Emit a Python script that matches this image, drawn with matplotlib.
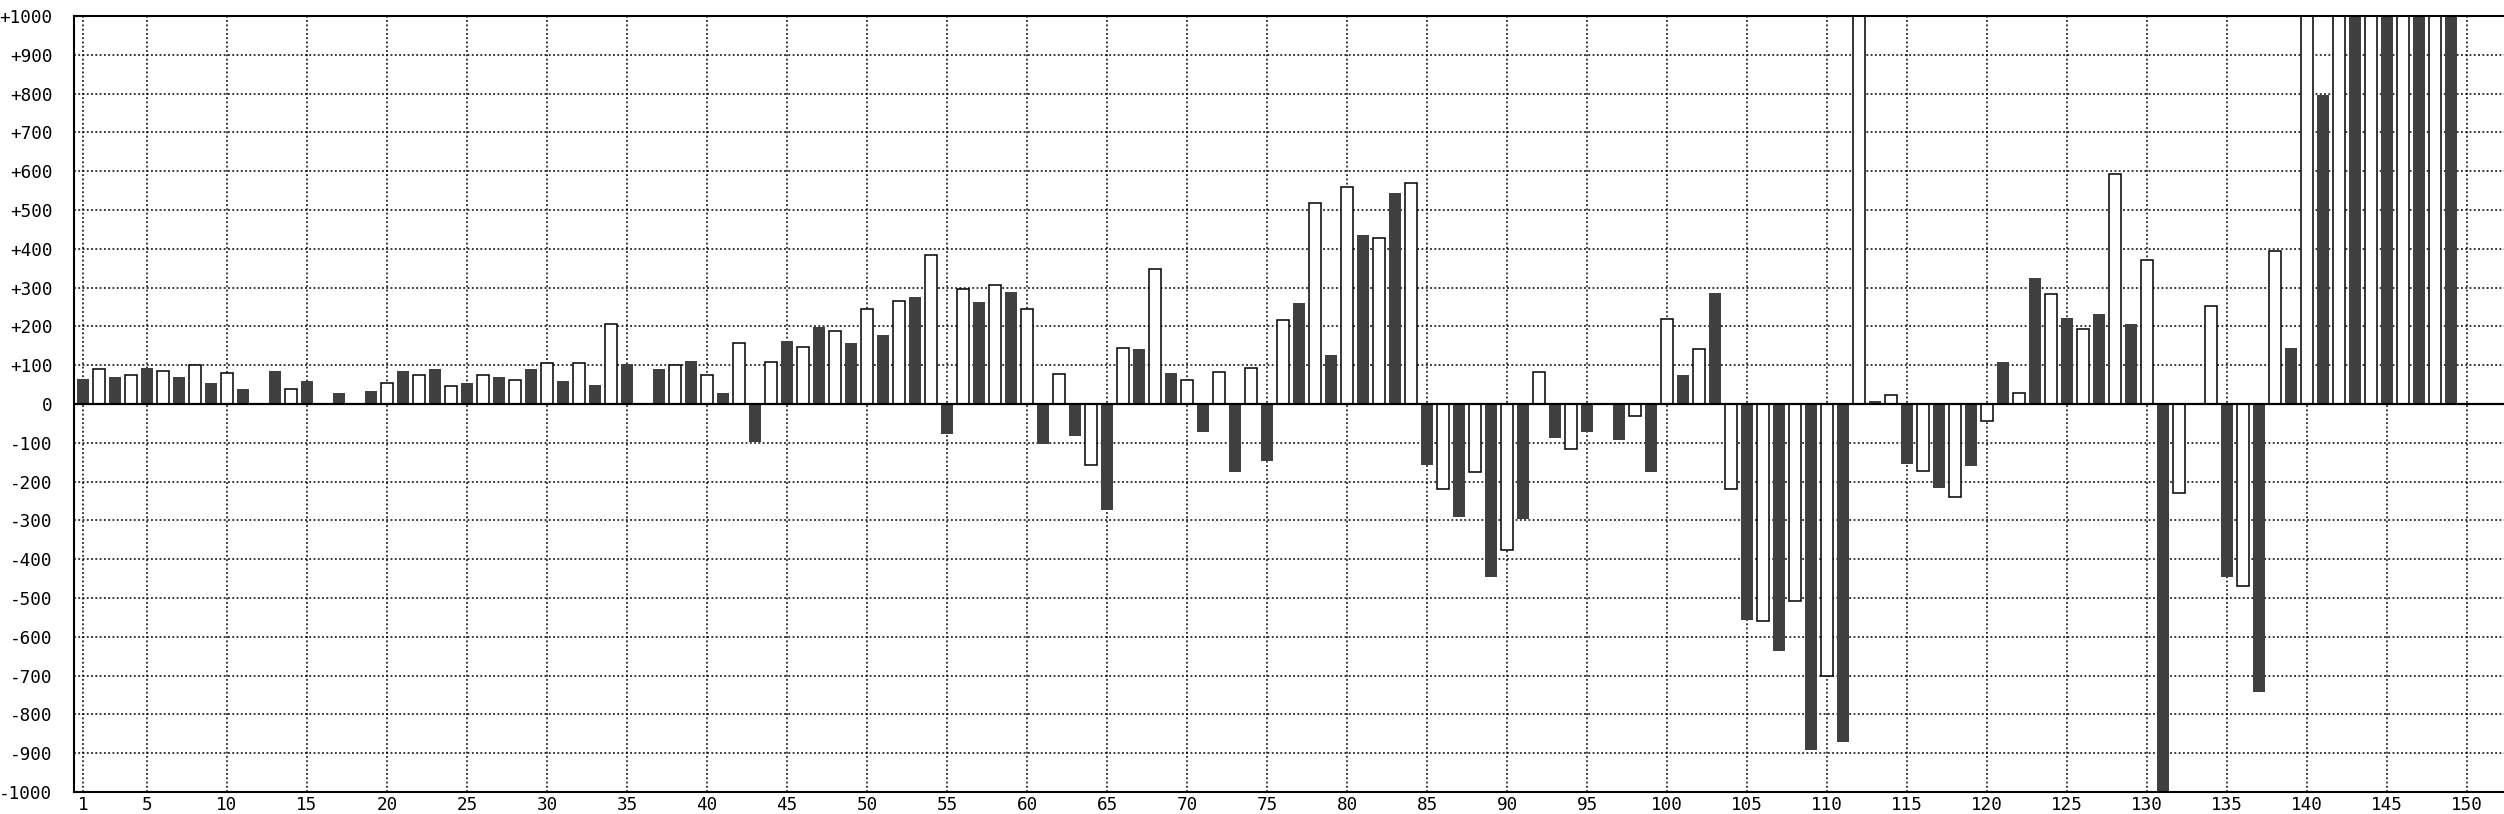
import matplotlib
matplotlib.use("Agg")
import matplotlib.pyplot as plt
import numpy as np

# ---- data ----
dark_positions = list(range(1, 150, 2))
white_positions = list(range(2, 151, 2))

dark_values = [
    65, 70, 92, 70, 55, 39, 86, 60, 28, 33,
    86, 91, 54, 70, 91, 60, 49, 102, 91, 112,
    28, -98, 163, 199, 157, 178, 277, -77, 262, 288,
    -102, -83, -272, 141, 79, -71, -174, -148, 260, 126,
    436, 545, -158, -290, -447, -296, -87, -71, -92, -176,
    75, 285, -557, -636, -893, -871, 9, -154, -216, -160,
    109, 324, 221, 232, 206, -1000, 0, -445, -743, 145,
    796, 1000, 1000, 1000, 1000,
]
white_values = [
    91, 75, 85, 100, 80, 0, 39, 0, 0, 53,
    74, 47, 74, 63, 105, 105, 205, 0, 100, 74,
    158, 109, 146, 187, 244, 265, 385, 297, 307, 244,
    77, -158, 145, 347, 62, 83, 93, 217, 517, 559,
    429, 569, -220, -174, -377, 83, -117, 0, -32, 219,
    141, -220, -558, -509, -700, 1000, 24, -173, -240, -44,
    29, 283, 194, 592, 370, -230, 252, -468, 395, 1000,
    1000, 1000, 1000, 1000, 0,
]

x_ticks = [1] + list(range(5, 151, 5))
y_ticks = list(range(-1000, 1001, 100))
y_labels = [("+%d" % v if v > 0 else ("0" if v == 0 else "%d" % v)) for v in y_ticks]

# ---- figure ----
W, H = 2504, 814
fig = plt.figure(figsize=(W / 100, H / 100), dpi=100)
left_px, right_px, top_px, bottom_px = 74, 2504, 16, 792
ax = fig.add_axes([left_px / W, (H - bottom_px) / H,
                   (right_px - left_px) / W, (bottom_px - top_px) / H])

bar_w = 0.75
ax.bar(dark_positions, dark_values, width=bar_w, color="#404040",
       edgecolor="none", zorder=2)
ax.bar(white_positions, white_values, width=bar_w, color="white",
       edgecolor="black", linewidth=1.1, zorder=2)

ax.axhline(0, color="black", linewidth=1.6, zorder=4)

ax.set_xlim(0.4375, 152.3)
ax.set_ylim(-1000, 1000)

ax.set_xticks(x_ticks)
ax.set_xticklabels([str(t) for t in x_ticks])
ax.set_yticks(y_ticks)
ax.set_yticklabels(y_labels)

grid_style = dict(color="black", linewidth=1.1, linestyle=(0, (1.2, 1.6)), zorder=1)
for t in x_ticks:
    ax.axvline(t, **grid_style)
for t in y_ticks:
    if t not in (0, -1000, 1000):
        ax.axhline(t, **grid_style)

for s in ["left", "bottom", "top"]:
    ax.spines[s].set_color("black")
    ax.spines[s].set_linewidth(1.5)
    ax.spines[s].set_zorder(5)
ax.spines["right"].set_visible(False)

font = dict(family="DejaVu Sans Mono", size=12.7)
ax.tick_params(axis="both", length=0)
ax.tick_params(axis="y", pad=15.5)
ax.tick_params(axis="x", pad=3)
for lab in ax.get_xticklabels() + ax.get_yticklabels():
    lab.set_fontfamily(font["family"])
    lab.set_fontsize(font["size"])
    lab.set_color("black")

fig.savefig("out.png", dpi=100, facecolor="white")
